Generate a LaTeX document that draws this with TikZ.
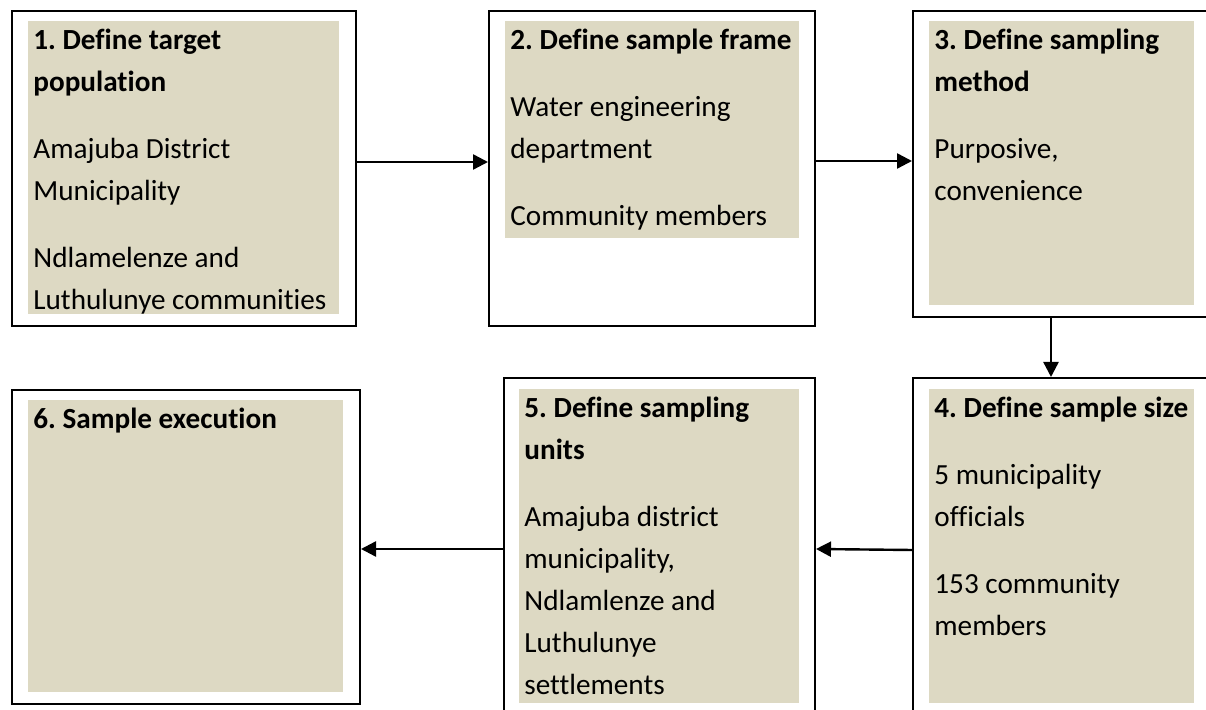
\documentclass[tikz,border=0pt]{standalone}
\usepackage{fontspec}
\setmainfont{Carlito}[Ligatures=CommonOff]
\usepackage{tikz}
\usetikzlibrary{arrows.meta}
\definecolor{tanfill}{HTML}{DDD9C3}
\newcommand{\topstrut}{\rule{0pt}{14pt}}

\tikzset{
  outerbox/.style={draw=black, line width=1pt, inner sep=0pt, anchor=north west},
  tanbox/.style={fill=tanfill, inner sep=0pt, anchor=north west},
  boxtext/.style={anchor=north west, inner sep=0pt, align=left,
                  font=\fontsize{14.6}{21}\selectfont\frenchspacing, xshift=2.5pt},
  flowarrow/.style={line width=1.2pt, -{Triangle[length=7.5pt,width=7.5pt]}}
}

\begin{document}
\begin{tikzpicture}[x=0.5pt,y=-0.5pt]
\useasboundingbox (0,0) rectangle (1206,710);

% Rangee du haut
\node[outerbox, minimum width=172pt, minimum height=157.5pt] (b1) at (11,10) {};
\node[tanbox, minimum width=155.5pt, minimum height=146.5pt] (f1) at (28,21) {};
\node[boxtext] (t1) at (f1.north west) {\topstrut\textbf{1. Define target}\\\textbf{population}\\[12.5pt]
  Amajuba District\\Municipality\\[12.5pt]Ndlamelenze and\\Luthulunye communities};

\node[outerbox, minimum width=163pt, minimum height=157.5pt] (b2) at (488,10) {};
\node[tanbox, minimum width=147pt, minimum height=108.5pt] (f2) at (505,21) {};
\node[boxtext] (t2) at (f2.north west) {\topstrut\textbf{2. Define sample frame}\\[12.5pt]
  Water engineering\\department\\[12.5pt]Community members};

\node[outerbox, minimum width=150pt, minimum height=153pt] (b3) at (912,10) {};
\node[tanbox, minimum width=132.5pt, minimum height=142pt] (f3) at (929,21) {};
\node[boxtext] (t3) at (f3.north west) {\topstrut\textbf{3. Define sampling}\\\textbf{method}\\[12.5pt]
  Purposive,\\convenience};

% Rangee du bas
\node[outerbox, minimum width=150pt, minimum height=168.5pt] (b4) at (912,377) {};
\node[tanbox, minimum width=132.5pt, minimum height=157pt] (f4) at (929,389) {};
\node[boxtext] (t4) at (f4.north west) {\topstrut\textbf{4. Define sample size}\\[12.5pt]
  5 municipality\\officials\\[12.5pt]153 community\\members};

\node[outerbox, minimum width=155.5pt, minimum height=168.5pt] (b5) at (503,377) {};
\node[tanbox, minimum width=140pt, minimum height=157pt] (f5) at (519,389) {};
\node[boxtext] (t5) at (f5.north west) {\topstrut\textbf{5. Define sampling}\\\textbf{units}\\[12.5pt]
  Amajuba district\\municipality,\\Ndlamlenze and\\Luthulunye\\settlements};

\node[outerbox, minimum width=174pt, minimum height=157pt] (b6) at (11,389) {};
\node[tanbox, minimum width=157.5pt, minimum height=146pt] (f6) at (28,400) {};
\node[boxtext] (t6) at (f6.north west) {\topstrut\textbf{6. Sample execution}};

% Fleches
\draw[flowarrow] (b1.east |- 0,162) -- (b2.west |- 0,162);
\draw[flowarrow] (b2.east |- 0,161) -- (b3.west |- 0,161);
\draw[flowarrow] (b3.south -| 1051,0) -- (b4.north -| 1051,0);
\draw[flowarrow] (b4.west |- 0,550) -- (b5.east |- 0,549);
\draw[flowarrow] (b5.west |- 0,549) -- (b6.east |- 0,549);

\end{tikzpicture}
\end{document}
